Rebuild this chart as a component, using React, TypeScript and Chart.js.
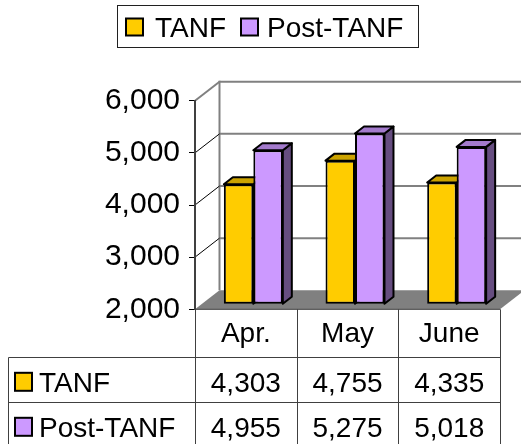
import React, { useEffect, useRef } from "react";
import { Chart, registerables } from "chart.js";

Chart.register(...registerables);

// ---- data ----
const categories = ["Apr.", "May", "June"];
const seriesNames = ["TANF", "Post-TANF"];
const tanf = [4303, 4755, 4335];
const postTanf = [4955, 5275, 5018];
const yMin = 2000;
const yMax = 6000;
const yStep = 1000;

// ---- style ----
const FONT = '"Liberation Sans", Arial, Helvetica, sans-serif';
const COLORS = ["#FFCC00", "#CC99FF"];
const TOP_COLORS = ["#CCA300", "#A37ACC"];
const SIDE_COLORS = ["#806600", "#664D80"];
const W = 521;
const H = 444;
const WALL_DX = 24.5;
const WALL_DY = 19;
const BAR_DX = 7.5;
const BAR_DY = 5;
const DEP_DX = 9;
const DEP_DY = 7;

const fmt = (v: number) => v.toLocaleString("en-US");

const threeD = {
  id: "threeD",
  beforeDraw(chart: any) {
    const { ctx, chartArea: a, scales } = chart;
    const y = scales.y;
    const yb = y.getPixelForValue(yMin);
    ctx.save();
    // back wall gridlines
    ctx.strokeStyle = "#808080";
    ctx.lineWidth = 2;
    for (let v = yMin + yStep; v <= yMax; v += yStep) {
      const py = y.getPixelForValue(v) - WALL_DY;
      ctx.beginPath();
      ctx.moveTo(a.left + WALL_DX, py);
      ctx.lineTo(W, py);
      ctx.stroke();
    }
    // back wall left edge
    ctx.beginPath();
    ctx.moveTo(a.left + WALL_DX, y.getPixelForValue(yMax) - WALL_DY - 1);
    ctx.lineTo(a.left + WALL_DX, yb - WALL_DY);
    ctx.stroke();
    // side wall diagonals
    for (let v = yMin + yStep; v <= yMax; v += yStep) {
      const py = y.getPixelForValue(v);
      ctx.strokeStyle = v === yMax ? "#808080" : "#000";
      ctx.lineWidth = v === yMax ? 2 : 1;
      ctx.beginPath();
      ctx.moveTo(a.left, py);
      ctx.lineTo(a.left + WALL_DX, py - WALL_DY);
      ctx.stroke();
    }
    // floor
    ctx.fillStyle = "#808080";
    ctx.beginPath();
    ctx.moveTo(a.left, yb);
    ctx.lineTo(a.right, yb);
    ctx.lineTo(a.right + WALL_DX, yb - WALL_DY);
    ctx.lineTo(a.left + WALL_DX, yb - WALL_DY);
    ctx.closePath();
    ctx.fill();
    ctx.restore();
  },
  beforeDatasetsDraw(chart: any) {
    const ctx = chart.ctx;
    ctx.save();
    ctx.translate(BAR_DX, -BAR_DY);
    chart.data.datasets.forEach((_ds: any, di: number) => {
      const meta = chart.getDatasetMeta(di);
      meta.data.forEach((el: any) => {
        const { x, y, base, width } = el.getProps(["x", "y", "base", "width"], true);
        const l = x - width / 2;
        const r = x + width / 2;
        ctx.lineWidth = 2;
        ctx.strokeStyle = "#000";
        ctx.lineJoin = "round";
        ctx.fillStyle = SIDE_COLORS[di];
        ctx.beginPath();
        ctx.moveTo(r, y);
        ctx.lineTo(r + DEP_DX, y - DEP_DY);
        ctx.lineTo(r + DEP_DX, base - DEP_DY);
        ctx.lineTo(r, base);
        ctx.closePath();
        ctx.fill();
        ctx.stroke();
        ctx.fillStyle = TOP_COLORS[di];
        ctx.beginPath();
        ctx.moveTo(l, y);
        ctx.lineTo(l + DEP_DX, y - DEP_DY);
        ctx.lineTo(r + DEP_DX, y - DEP_DY);
        ctx.lineTo(r, y);
        ctx.closePath();
        ctx.fill();
        ctx.stroke();
      });
    });
  },
  afterDatasetsDraw(chart: any) {
    chart.ctx.restore();
  },
  afterDraw(chart: any) {
    const { ctx, chartArea: a, scales } = chart;
    const xs = scales.x;
    const yb = scales.y.getPixelForValue(yMin);
    const n = categories.length;
    const colW = (a.right - a.left) / n;
    const headerH = 47.5;
    const rowH = 45;
    const tableLeft = 8.5;
    const series = [tanf, postTanf];
    ctx.save();
    // table lines
    ctx.strokeStyle = "#404040";
    ctx.lineWidth = 1;
    ctx.beginPath();
    ctx.moveTo(a.left, yb);
    ctx.lineTo(a.right, yb);
    for (let i = 0; i <= n; i++) {
      const xx = Math.round(a.left + i * colW) + 0.5;
      ctx.moveTo(xx, yb);
      ctx.lineTo(xx, H);
    }
    for (let r = 0; r < series.length; r++) {
      const ty = Math.round(yb + headerH + r * rowH) + 0.5;
      ctx.moveTo(tableLeft, ty);
      ctx.lineTo(a.right, ty);
    }
    ctx.moveTo(tableLeft, Math.round(yb + headerH) + 0.5);
    ctx.lineTo(tableLeft, H);
    ctx.stroke();

    ctx.fillStyle = "#000";
    ctx.font = `28px ${FONT}`;
    ctx.textBaseline = "alphabetic";
    ctx.textAlign = "center";
    categories.forEach((c, i) => {
      ctx.fillText(c, xs.getPixelForValue(i), yb + 33);
    });
    series.forEach((vals, r) => {
      const top = yb + headerH + r * rowH;
      vals.forEach((v, i) => {
        ctx.fillText(fmt(v), xs.getPixelForValue(i), top + 35);
      });
    });
    ctx.textAlign = "left";
    series.forEach((_vals, r) => {
      const top = yb + headerH + r * rowH;
      ctx.fillStyle = COLORS[r];
      ctx.fillRect(15, top + 16, 17, 18);
      ctx.lineWidth = 2;
      ctx.strokeStyle = "#000";
      ctx.strokeRect(15, top + 16, 17, 18);
      ctx.fillStyle = "#000";
      ctx.fillText(seriesNames[r], 39, top + 35);
    });

    // legend
    ctx.lineWidth = 1;
    ctx.strokeStyle = "#202020";
    ctx.strokeRect(117.5, 5.5, 301, 42);
    const items = [
      { sx: 126, tx: 155 },
      { sx: 241, tx: 267 },
    ];
    items.forEach((it, i) => {
      ctx.fillStyle = COLORS[i];
      ctx.fillRect(it.sx, 18.5, 17, 17);
      ctx.lineWidth = 2;
      ctx.strokeStyle = "#000";
      ctx.strokeRect(it.sx, 18.5, 17, 17);
      ctx.fillStyle = "#000";
      ctx.fillText(seriesNames[i], it.tx, 36.5);
    });
    ctx.restore();
  },
};

export default function App() {
  const ref = useRef<HTMLCanvasElement | null>(null);
  useEffect(() => {
    if (!ref.current) return;
    const chart = new Chart(ref.current, {
      type: "bar",
      data: {
        labels: categories,
        datasets: [tanf, postTanf].map((vals, i) => ({
          label: seriesNames[i],
          data: vals,
          base: yMin,
          backgroundColor: COLORS[i],
          borderColor: "#000",
          borderWidth: 2,
          borderSkipped: false,
          barPercentage: 1,
          categoryPercentage: 0.58,
          inflateAmount: 0,
          clip: false as any,
        })),
      },
      options: {
        animation: false,
        responsive: false,
        devicePixelRatio: 1,
        layout: { padding: { top: 100.7, bottom: 134.7, left: 0, right: 21 } },
        plugins: { legend: { display: false }, tooltip: { enabled: false } },
        scales: {
          x: { display: false },
          y: {
            min: yMin,
            max: yMax,
            ticks: {
              stepSize: yStep,
              color: "#000",
              padding: 9,
              font: { family: FONT, size: 30 },
              callback: (v: any) => fmt(Number(v)),
            },
            grid: { drawOnChartArea: false, drawTicks: true, tickLength: 6, color: "#000", lineWidth: 1 },
            border: { display: true, color: "#404040", width: 2 },
            afterFit: (s: any) => {
              s.width = 195;
            },
          },
        },
      },
      plugins: [threeD],
    });
    return () => chart.destroy();
  }, []);
  return (
    <div style={{ position: "absolute", left: 0, top: 0, width: W, height: H }}>
      <canvas ref={ref} width={W} height={H} style={{ display: "block" }} />
    </div>
  );
}
